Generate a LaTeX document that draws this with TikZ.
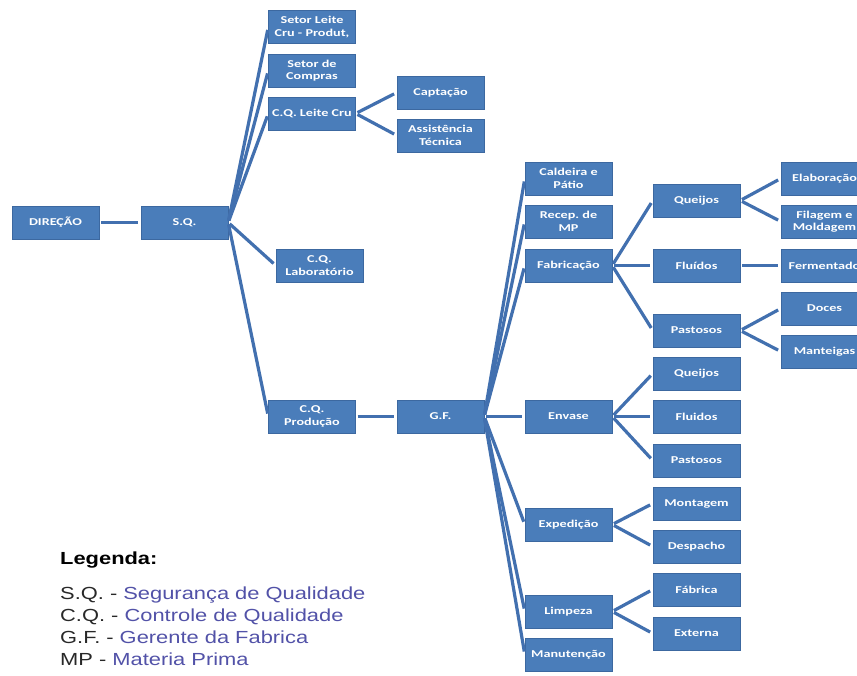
\documentclass[tikz,border=0pt]{standalone}
\usepackage{fontspec}
\usepackage{tikz}
\newfontfamily\boxfont[FakeStretch=1.35]{Carlito}
\newfontfamily\legfont[FakeStretch=1.25]{Liberation Sans}
\definecolor{boxblue}{RGB}{74,125,186}
\definecolor{boxedge}{RGB}{60,104,160}
\definecolor{lineblue}{RGB}{66,112,175}
\definecolor{legblue}{RGB}{82,82,168}
\definecolor{legdark}{RGB}{40,40,40}

\begin{document}
\begin{tikzpicture}[x=1pt,y=-1pt,
    box/.style={draw=boxedge,fill=boxblue,text=white,minimum width=87pt,minimum height=33pt,
      inner sep=1pt,align=center,font=\boxfont\bfseries\fontsize{10.5}{12.5}\selectfont},
    link/.style={draw=lineblue,line width=3.2pt,shorten <=2pt,shorten >=3pt}]
    \useasboundingbox[fill=white] (0,0) rectangle (857,675);

    % top level
    \node[box] (dir) at (55.5,222.5) {DIREÇÃO};
    \node[box] (sq) at (184.5,222.5) {S.Q.};
    \draw[link] (dir) -- (sq);

    % S.Q. sectors
    \node[box] (leite) at (312,27) {Setor Leite\\Cru - Produt,};
    \node[box] (compras) at (312,70.5) {Setor de\\Compras};
    \node[box] (cqleite) at (312,113.5) {C.Q. Leite Cru};
    \node[box] (cqlab) at (319.5,265.5) {C.Q.\\Laboratório};
    \node[box] (cqprod) at (312,416.5) {C.Q.\\Produção};
    \foreach \n in {leite,compras,cqleite,cqlab,cqprod}
      \draw[link] (sq.east) -- (\n.west);

    \node[box] (capt) at (440.5,92.5) {Captação};
    \node[box] (assist) at (440.5,135.5) {Assistência\\Técnica};
    \draw[link] (cqleite.east) -- (capt.west);
    \draw[link] (cqleite.east) -- (assist.west);

    \node[box] (gf) at (440.5,416.5) {G.F.};
    \draw[link] (cqprod) -- (gf);

    % G.F. departments
    \node[box] (cald) at (568.5,178.5) {Caldeira e\\Pátio};
    \node[box] (recep) at (568.5,221.5) {Recep.\ de\\MP};
    \node[box] (fab) at (568.5,265.5) {Fabricação};
    \node[box] (env) at (568.5,416.5) {Envase};
    \node[box] (exped) at (568.5,524.5) {Expedição};
    \node[box] (limp) at (568.5,611.5) {Limpeza};
    \node[box] (manut) at (568.5,654.5) {Manutenção};
    \foreach \n in {cald,recep,fab,env,exped,limp,manut}
      \draw[link] (gf.east) -- (\n.west);

    % Fabricação
    \node[box] (fqueijos) at (696.5,200.5) {Queijos};
    \node[box] (ffluidos) at (696.5,265.5) {Fluídos};
    \node[box] (fpast) at (696.5,330.5) {Pastosos};
    \foreach \n in {fqueijos,ffluidos,fpast}
      \draw[link] (fab.east) -- (\n.west);

    \node[box] (elab) at (824.5,178.5) {Elaboração};
    \node[box] (filag) at (824.5,221.5) {Filagem e\\Moldagem};
    \node[box] (ferm) at (824.5,265.5) {Fermentado};
    \node[box] (doces) at (824.5,308.5) {Doces};
    \node[box] (mant) at (824.5,351.5) {Manteigas};
    \draw[link] (fqueijos.east) -- (elab.west);
    \draw[link] (fqueijos.east) -- (filag.west);
    \draw[link] (ffluidos) -- (ferm);
    \draw[link] (fpast.east) -- (doces.west);
    \draw[link] (fpast.east) -- (mant.west);

    % Envase
    \node[box] (equeijos) at (696.5,373.5) {Queijos};
    \node[box] (efluidos) at (696.5,416.5) {Fluidos};
    \node[box] (epast) at (696.5,460.5) {Pastosos};
    \foreach \n in {equeijos,efluidos,epast}
      \draw[link] (env.east) -- (\n.west);

    % Expedição and Limpeza
    \node[box] (mont) at (696.5,503.5) {Montagem};
    \node[box] (desp) at (696.5,546.5) {Despacho};
    \draw[link] (exped.east) -- (mont.west);
    \draw[link] (exped.east) -- (desp.west);
    \node[box] (fabr) at (696.5,589.5) {Fábrica};
    \node[box] (ext) at (696.5,633.5) {Externa};
    \draw[link] (limp.east) -- (fabr.west);
    \draw[link] (limp.east) -- (ext.west);

    % legend
    \node[anchor=base west,inner sep=0pt,font=\legfont\bfseries\fontsize{17.5}{20}\selectfont] (leg) at (60,564) {Legenda:};
    \foreach \i/\a/\b/\y in {1/S.Q./Segurança de Qualidade/599, 2/C.Q./Controle de Qualidade/621,
      3/G.F./Gerente da Fabrica/643, 4/MP/Materia Prima/665}
      \node[anchor=base west,inner sep=0pt,font=\legfont\fontsize{17.5}{20}\selectfont] (leg\i) at (60,\y)
        {\textcolor{legdark}{\a\ -} \textcolor{legblue}{\b}};
\end{tikzpicture}
\end{document}
